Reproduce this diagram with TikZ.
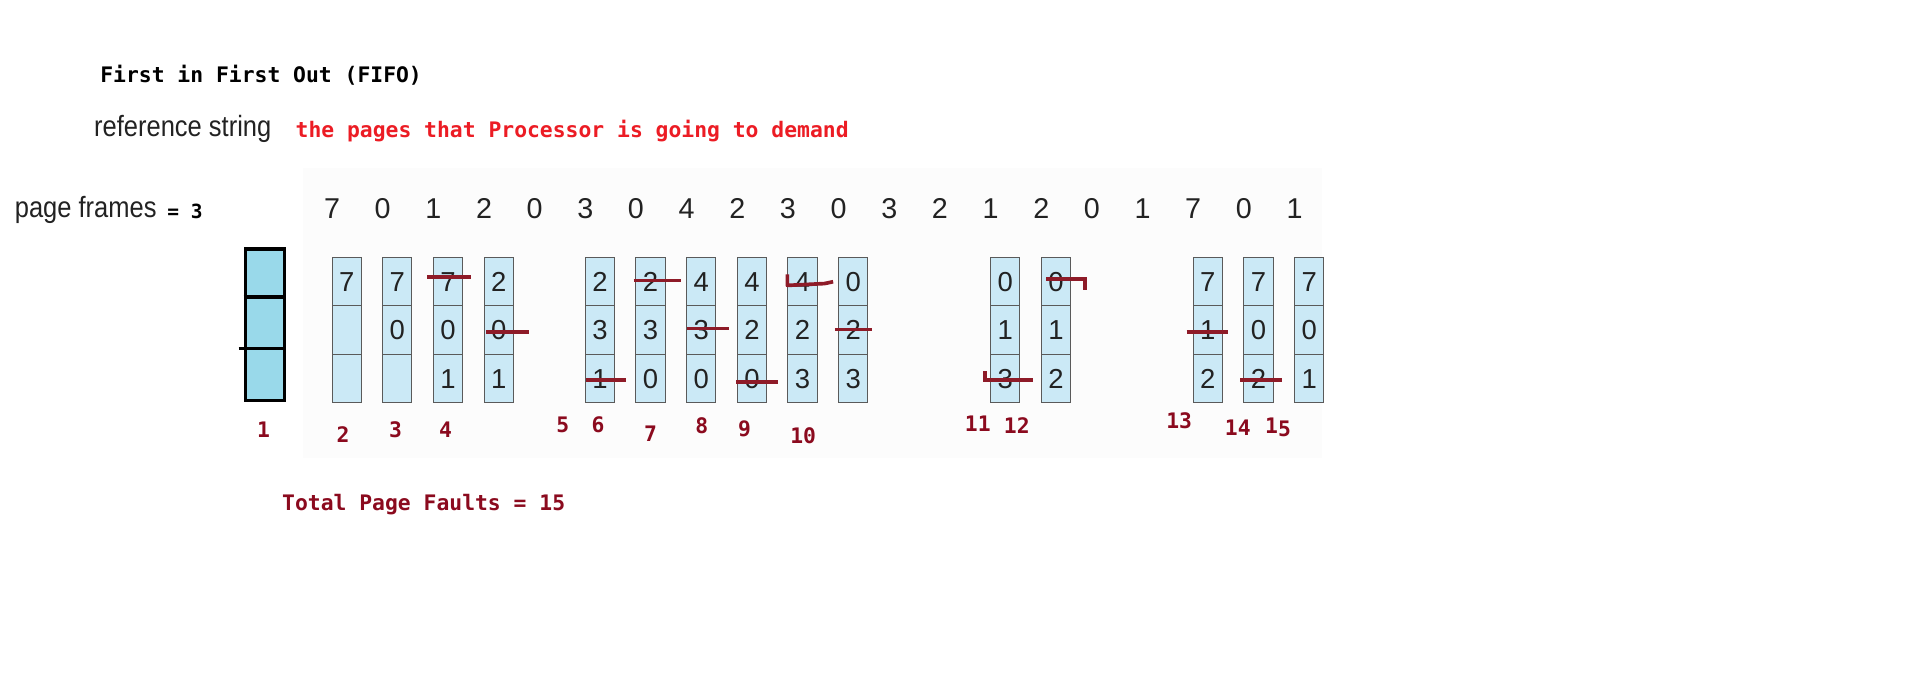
\documentclass[tikz,border=0pt]{standalone}
\usepackage{fontspec}
\setmainfont{Liberation Sans}
\newfontfamily\monofnt{DejaVu Sans Mono}
\usetikzlibrary{calc}
\definecolor{cellfill}{HTML}{CBE9F6}
\definecolor{cellline}{HTML}{5A5A5A}
\definecolor{lblred}{HTML}{8B0A1E}
\definecolor{strikered}{HTML}{8E1B28}
\definecolor{brightred}{HTML}{EC1C24}
\definecolor{boxfill}{HTML}{99D9EA}
\definecolor{darktext}{HTML}{222222}
\definecolor{faintbg}{HTML}{FCFCFC}
\newcommand\fcol[5]{%
  \node[cell] (#1a) at (#2,230.8) {#3};
  \node[cell] (#1b) at (#2,270.5) {#4};
  \node[cell] (#1c) at (#2,310.2) {#5};}
\begin{document}
\begin{tikzpicture}[x=1pt,y=-1pt,
  cell/.style={draw=cellline, line width=0.8pt, fill=cellfill, minimum width=24pt, minimum height=39.7pt, inner sep=0pt, font=\fontsize{22.5}{22.5}\selectfont, text=darktext},
  lbl/.style={font=\monofnt\bfseries\fontsize{17.5}{17.5}\selectfont, text=lblred, inner sep=0pt},
  monotext/.style={font=\monofnt\bfseries\fontsize{17.5}{17.5}\selectfont, inner sep=0pt, anchor=west},
  sanstext/.style={font=\fontsize{24}{24}\selectfont, text=darktext, inner sep=0pt, anchor=west},
  strk/.style={draw=strikered, line width=3pt},
  refnum/.style={font=\fontsize{23.5}{23.5}\selectfont, text=darktext, inner sep=0pt}]
\useasboundingbox (0,0) rectangle (1568,573);
\fill[white] (0,0) rectangle (1568,573);
\fill[faintbg] (248,138) rectangle (1083,375);

% headings
\node[monotext] (title) at (82,62) {First in First Out (FIFO)};
\node[sanstext] (refs) at (77,106) {\scalebox{0.87}[1]{reference string}};
\node[monotext, text=brightred] (demand) at (242,107) {the pages that Processor is going to demand};
\node[sanstext] (pf) at (12,172) {\scalebox{0.87}[1]{page frames}};
\node[monotext, font=\monofnt\bfseries\fontsize{16}{16}\selectfont] (pfv) at (137,173) {= 3};

% reference string
\foreach \v [count=\i] in {7,0,1,2,0,3,0,4,2,3,0,3,2,1,2,0,1,7,0,1}
  \node[refnum] (n\i) at ({272+(\i-1)*41.5},171) {\v};

% empty frame column
\node[draw, line width=3pt, fill=boxfill, minimum width=32pt, minimum height=124pt, inner sep=0pt] (fr) at (217,266) {};
\draw[line width=3pt] ($(fr.north west)+(0,41)$) -- ($(fr.north east)+(0,41)$);
\draw[line width=3pt] ($(fr.north west)+(-4,83)$) -- ($(fr.north east)+(0,83)$);

% frame columns
\fcol{k1}{284}{7}{}{}
\fcol{k2}{325.5}{7}{0}{}
\fcol{k3}{367}{7}{0}{1}
\fcol{k4}{408.5}{2}{0}{1}
\fcol{k5}{491.5}{2}{3}{1}
\fcol{k6}{533}{2}{3}{0}
\fcol{k7}{574.5}{4}{3}{0}
\fcol{k8}{616}{4}{2}{0}
\fcol{k9}{657.5}{4}{2}{3}
\fcol{k10}{699}{0}{2}{3}
\fcol{k11}{823.5}{0}{1}{3}
\fcol{k12}{865}{0}{1}{2}
\fcol{k13}{989.5}{7}{1}{2}
\fcol{k14}{1031}{7}{0}{2}
\fcol{k15}{1072.5}{7}{0}{1}

% strikes
\draw[strk] ($(k3a.center)+(-17,-4)$) -- ($(k3a.center)+(19,-4)$);
\draw[strk] ($(k4b.center)+(-10.5,1.5)$) -- ($(k4b.center)+(24.5,1.5)$);
\draw[strk] ($(k5c.center)+(-11.5,1)$) -- ($(k5c.center)+(21.5,1)$);
\draw[strk] ($(k6a.center)+(-14,-1)$) -- ($(k6a.center)+(25,-1)$);
\draw[strk] ($(k7b.center)+(-11.5,-1.5)$) -- ($(k7b.center)+(22.5,-1.5)$);
\draw[strk] ($(k8c.center)+(-13,3)$) -- ($(k8c.center)+(21,3)$);
\draw[strk, line join=round] ($(k9a.center)+(-12.5,-6)$) -- ($(k9a.center)+(-12.5,3)$) -- ($(k9a.center)+(18,1.5)$) -- ($(k9a.center)+(25,0)$);
\draw[strk] ($(k10b.center)+(-15,-0.5)$) -- ($(k10b.center)+(15,-0.5)$);
\draw[strk] ($(k11c.center)+(-16.5,-6)$) -- ($(k11c.center)+(-16.5,1)$) -- ($(k11c.center)+(22.5,1)$);
\draw[strk] ($(k12a.center)+(-8,-2)$) -- ($(k12a.center)+(24,-2)$) -- ($(k12a.center)+(24,7)$);
\draw[strk] ($(k13b.center)+(-17.5,1.5)$) -- ($(k13b.center)+(16.5,1.5)$);
\draw[strk] ($(k14c.center)+(-15,1)$) -- ($(k14c.center)+(19,1)$);

% step labels
\node[lbl] (l1) at (216,352) {1};
\node[lbl] (l2) at (281,356) {2};
\node[lbl] (l3) at (324,352) {3};
\node[lbl] (l4) at (365,352) {4};
\node[lbl] (l5) at (461,348) {5};
\node[lbl] (l6) at (490,348) {6};
\node[lbl] (l7) at (533,355) {7};
\node[lbl] (l8) at (575,349) {8};
\node[lbl] (l9) at (610,351) {9};
\node[lbl] (l10) at (658,357) {10};
\node[lbl] (l11) at (801,347) {11};
\node[lbl] (l12) at (833,349) {12};
\node[lbl] (l13) at (966,345) {13};
\node[lbl] (l14) at (1014,350) {14};
\node[lbl] (l15) at (1047,350) {1\raisebox{-3pt}{5}};

\node[monotext, text=lblred] (total) at (231,413) {Total Page Faults = 15};
\end{tikzpicture}
\end{document}
